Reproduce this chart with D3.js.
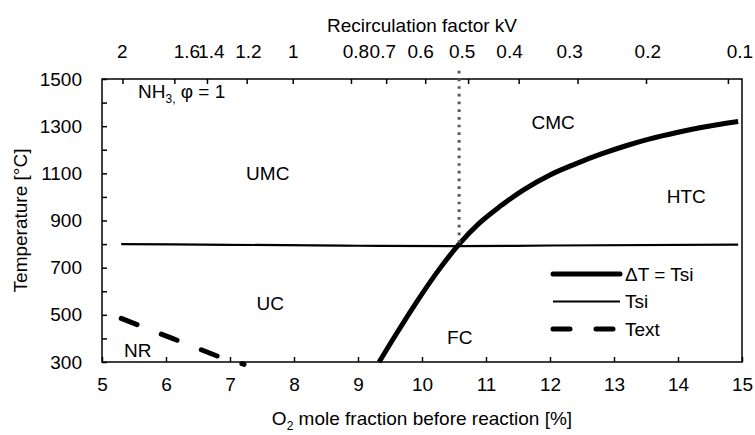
<!DOCTYPE html>
<html><head><meta charset="utf-8">
<script src="https://cdn.jsdelivr.net/npm/d3@7"></script>
<style>
body{margin:0;background:#fff}
svg{display:block}
text{font-family:"Liberation Sans",Arial,sans-serif;fill:#000}
</style>
</head><body><svg id="c" width="755" height="435"></svg>
<script>
// ---- data ----
const o2Ticks = [5, 6, 7, 8, 9, 10, 11, 12, 13, 14, 15];
const tempTicks = [300, 400, 500, 600, 700, 800, 900, 1000, 1100, 1200, 1300, 1400, 1500];
const tempLabels = [300, 500, 700, 900, 1100, 1300, 1500];
const kvLabels = ["2", "1.6", "1.4", "1.2", "1", "0.8", "0.7", "0.6", "0.5", "0.4", "0.3", "0.2", "0.1"];
// O2 fraction at which each kV tick sits
const kvTickAtO2 = [5.32, 6.13, 6.64, 7.26, 7.98, 8.89, 9.44, 10.05, 10.72, 11.51, 12.43, 13.50, 14.78];
// O2 fraction at which each kV label is centred
const kvLabelAtO2 = [5.31, 6.32, 6.70, 7.28, 7.98, 8.96, 9.38, 9.97, 10.62, 11.36, 12.30, 13.52, 14.96];

const tsiO2 = [5.3, 7.0, 9.0, 10.5, 12.0, 14.94];
const tsiTemp = [800, 797, 793, 791, 794, 798];

const dtO2 = [9.33, 9.6, 9.9, 10.28, 10.58, 10.9, 11.22, 11.6, 12.0, 12.4, 12.78, 13.2, 13.56, 14.0, 14.34, 14.94];
const dtTemp = [300, 420, 548, 697, 800, 890, 960, 1032, 1093, 1140, 1180, 1218, 1246, 1274, 1293, 1320];

const textO2 = [5.3, 6.1, 6.85, 7.22];
const textTemp = [485, 400, 320, 290];

const markerO2 = 10.58;
const markerTemp = [1535, 800];

const regionNames = ["UMC", "CMC", "HTC", "UC", "FC", "NR"];
const regionO2 = [7.59, 12.05, 14.13, 7.63, 10.59, 5.56];
const regionTemp = [1101, 1318, 1004, 550, 406, 351];

const legendNames = ["\u0394T = Tsi", "Tsi", "Text"];

// ---- layout ----
const W = 755, H = 435;
const m = {left: 102, right: 13, top: 79, bottom: 73};
const svg = d3.select("#c");
const x = d3.scaleLinear().domain([5, 15]).range([m.left, W - m.right]);
const y = d3.scaleLinear().domain([300, 1500]).range([H - m.bottom, m.top]);
const fs = "19px";

// axes
const gl = svg.append("g").attr("transform", `translate(${m.left},0)`)
  .call(d3.axisLeft(y).tickValues(tempTicks).tickSize(-5).tickPadding(20)
    .tickFormat(d => tempLabels.includes(d) ? d : ""));
const gb = svg.append("g").attr("transform", `translate(0,${H - m.bottom})`)
  .call(d3.axisBottom(x).tickValues(o2Ticks).tickSize(-5).tickPadding(16).tickFormat(d3.format("d")));
const gt = svg.append("g").attr("transform", `translate(0,${m.top})`)
  .call(d3.axisTop(x).tickValues(kvTickAtO2).tickSize(-5).tickFormat(() => ""));
const gtl = svg.append("g").attr("transform", `translate(0,${m.top})`)
  .call(d3.axisTop(x).tickValues(kvLabelAtO2).tickSize(0).tickPadding(21)
    .tickFormat((d, i) => kvLabels[i]));
gtl.selectAll(".tick line").remove();
[gl, gb, gt, gtl].forEach(g => {
  g.select(".domain").remove();
  g.selectAll(".tick line").attr("stroke", "#000").attr("stroke-width", 1.5);
  g.selectAll(".tick text").attr("font-size", fs).attr("font-family", "Liberation Sans, Arial, sans-serif").attr("fill", "#000");
});

// frame
svg.append("rect").attr("x", m.left).attr("y", m.top)
  .attr("width", W - m.left - m.right).attr("height", H - m.top - m.bottom)
  .attr("fill", "none").attr("stroke", "#000").attr("stroke-width", 1.5);

// lines
const line = d3.line().x(d => x(d[0])).y(d => y(d[1]));
svg.append("path").datum(tsiO2.map((v, i) => [v, tsiTemp[i]]))
  .attr("d", line.curve(d3.curveMonotoneX)).attr("fill", "none").attr("stroke", "#000").attr("stroke-width", 2.2);
svg.append("path").datum(dtO2.map((v, i) => [v, dtTemp[i]]))
  .attr("d", line.curve(d3.curveMonotoneX)).attr("fill", "none").attr("stroke", "#000").attr("stroke-width", 5);
svg.append("path").datum(textO2.map((v, i) => [v, textTemp[i]]))
  .attr("d", line.curve(d3.curveLinear)).attr("fill", "none").attr("stroke", "#000").attr("stroke-width", 5)
  .attr("stroke-linecap", "round").attr("stroke-dasharray", "17,26");
svg.append("line").attr("x1", x(markerO2)).attr("x2", x(markerO2))
  .attr("y1", y(markerTemp[0])).attr("y2", y(markerTemp[1]))
  .attr("stroke", "#595959").attr("stroke-width", 3).attr("stroke-dasharray", "2.7,5");

// region labels
regionNames.forEach((n, i) => {
  svg.append("text").attr("x", x(regionO2[i])).attr("y", y(regionTemp[i]))
    .attr("text-anchor", "middle").attr("dy", "0.35em").attr("font-size", fs).text(n);
});

// NH3 annotation
const nh = svg.append("text").attr("x", 138).attr("y", 98).attr("font-size", fs);
nh.append("tspan").text("NH");
nh.append("tspan").attr("font-size", "12px").attr("dy", 5).text("3,");
nh.append("tspan").attr("dy", -5).text(" \u03c6 = 1");

// axis titles
svg.append("text").attr("x", (m.left + W - m.right) / 2).attr("y", 32)
  .attr("text-anchor", "middle").attr("font-size", fs).text("Recirculation factor kV");
const bt = svg.append("text").attr("x", (m.left + W - m.right) / 2).attr("y", 425)
  .attr("text-anchor", "middle").attr("font-size", fs);
bt.append("tspan").text("O");
bt.append("tspan").attr("font-size", "12px").attr("dy", 5).text("2");
bt.append("tspan").attr("dy", -5).text(" mole fraction before reaction [%]");
svg.append("text").attr("transform", `translate(27,${(m.top + H - m.bottom) / 2}) rotate(-90)`)
  .attr("text-anchor", "middle").attr("font-size", fs).text("Temperature [\u00b0C]");

// legend
const legStyles = [
  {w: 5, dash: null},
  {w: 2.2, dash: null},
  {w: 5, dash: "17,26"}
];
legendNames.forEach((n, i) => {
  const ly = 274 + i * 27.5;
  svg.append("line").attr("x1", 553).attr("x2", 620).attr("y1", ly).attr("y2", ly)
    .attr("stroke", "#000").attr("stroke-width", legStyles[i].w)
    .attr("stroke-linecap", i === 1 ? "butt" : "round")
    .attr("stroke-dasharray", legStyles[i].dash);
  svg.append("text").attr("x", 625).attr("y", ly).attr("dy", "0.35em").attr("font-size", fs).text(n);
});
</script>
</body></html>
